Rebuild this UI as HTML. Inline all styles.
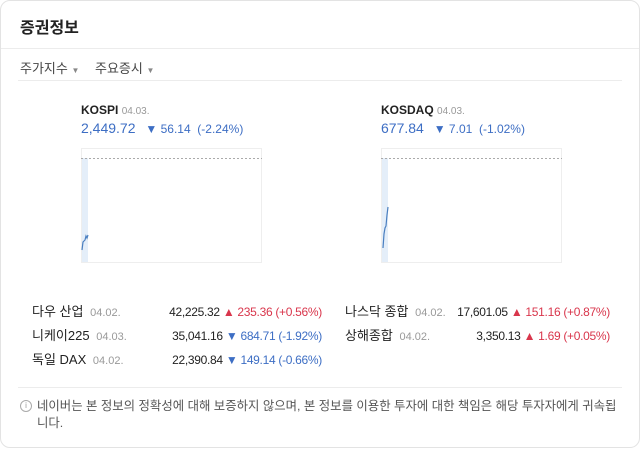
<!DOCTYPE html>
<html><head><meta charset="utf-8"><style>
*{margin:0;padding:0;box-sizing:border-box}
body{width:640px;height:449px;background:#fff;font-family:"Liberation Sans","Noto Sans CJK KR",sans-serif;position:relative;overflow:hidden;color:#222}
.card{position:absolute;left:0;top:0;width:640px;height:448px;border:1px solid #e3e3e3;border-radius:10px}
.a{position:absolute;white-space:nowrap}
.hl{position:absolute;height:1px;background:#ececec}
.gray{color:#999;font-size:11px}
.blue{color:#3d6ec4}
.red{color:#d9364c}
.t{font-size:13px}
.row{position:absolute;height:20px;line-height:20px;white-space:nowrap}
.nm{position:absolute;left:0;top:0;font-size:13px}
.v{position:absolute;right:0;top:0;font-size:12px;letter-spacing:-0.3px}
</style></head><body>
<div class="card"></div>
<div class="a" style="left:20px;top:14px;font-size:16px;font-weight:bold;color:#222">증권정보</div>
<div class="hl" style="left:1px;width:638px;top:48px"></div>
<div class="a t" style="left:20px;top:58px;color:#444">주가지수 <span style="font-size:8px;color:#888">▼</span></div>
<div class="a t" style="left:95px;top:58px;color:#444">주요증시 <span style="font-size:8px;color:#888">▼</span></div>
<div class="hl" style="left:18px;width:604px;top:80px"></div>

<div class="a" style="left:81px;top:103px;font-size:12px;font-weight:bold">KOSPI <span class="gray" style="font-weight:normal;font-size:10px">04.03.</span></div>
<div class="a blue" style="left:81px;top:120px;font-size:14px">2,449.72 <span style="font-size:12px;margin-left:6px">▼ 56.14&nbsp; (-2.24%)</span></div>
<div class="a" style="left:381px;top:103px;font-size:12px;font-weight:bold">KOSDAQ <span class="gray" style="font-weight:normal;font-size:10px">04.03.</span></div>
<div class="a blue" style="left:381px;top:120px;font-size:14px">677.84 <span style="font-size:12px;margin-left:6px">▼ 7.01&nbsp; (-1.02%)</span></div>

<svg class="a" style="left:0;top:0" width="640" height="449">
<g fill="none">
<rect x="81.5" y="148.5" width="180" height="114" stroke="#eee"/>
<rect x="82" y="158" width="6" height="104" fill="#e4eef9"/>
<line x1="81" y1="158.5" x2="262" y2="158.5" stroke="#aaa" stroke-dasharray="2,2"/>
<polyline points="82,250 83,242 85,240 86,236 87,238 88,235" stroke="#4a7fc0" stroke-width="1.2"/>
<rect x="381.5" y="148.5" width="180" height="114" stroke="#eee"/>
<rect x="382" y="158" width="6" height="104" fill="#e4eef9"/>
<line x1="381" y1="158.5" x2="562" y2="158.5" stroke="#aaa" stroke-dasharray="2,2"/>
<polyline points="383,248 384,234 385,228 386,226 387,215 388,207" stroke="#4a7fc0" stroke-width="1.2"/>
</g></svg>

<div class="row" style="left:32px;top:302px;width:290px"><span class="nm">다우 산업 <span class="gray">&nbsp;04.02.</span></span><span class="v">42,225.32 <span class="red">▲ 235.36 (+0.56%)</span></span></div>
<div class="row" style="left:32px;top:326px;width:290px"><span class="nm">니케이225 <span class="gray">&nbsp;04.03.</span></span><span class="v">35,041.16 <span class="blue">▼ 684.71 (-1.92%)</span></span></div>
<div class="row" style="left:32px;top:350px;width:290px"><span class="nm">독일 DAX <span class="gray">&nbsp;04.02.</span></span><span class="v">22,390.84 <span class="blue">▼ 149.14 (-0.66%)</span></span></div>
<div class="row" style="left:345px;top:302px;width:265px"><span class="nm">나스닥 종합 <span class="gray">&nbsp;04.02.</span></span><span class="v">17,601.05 <span class="red">▲ 151.16 (+0.87%)</span></span></div>
<div class="row" style="left:345px;top:326px;width:265px"><span class="nm">상해종합 <span class="gray">&nbsp;04.02.</span></span><span class="v">3,350.13 <span class="red">▲ 1.69 (+0.05%)</span></span></div>

<div class="hl" style="left:18px;width:604px;top:387px"></div>
<div class="a" style="left:20px;top:400px;width:12px;height:12px;border:1px solid #aaa;border-radius:50%;font-size:8px;color:#999;text-align:center;line-height:10px">i</div>
<div class="a" style="left:37px;top:398px;font-size:12.4px;color:#555;line-height:17px">네이버는 본 정보의 정확성에 대해 보증하지 않으며, 본 정보를 이용한 투자에 대한 책임은 해당 투자자에게 귀속됩<br>니다.</div>
</body></html>
